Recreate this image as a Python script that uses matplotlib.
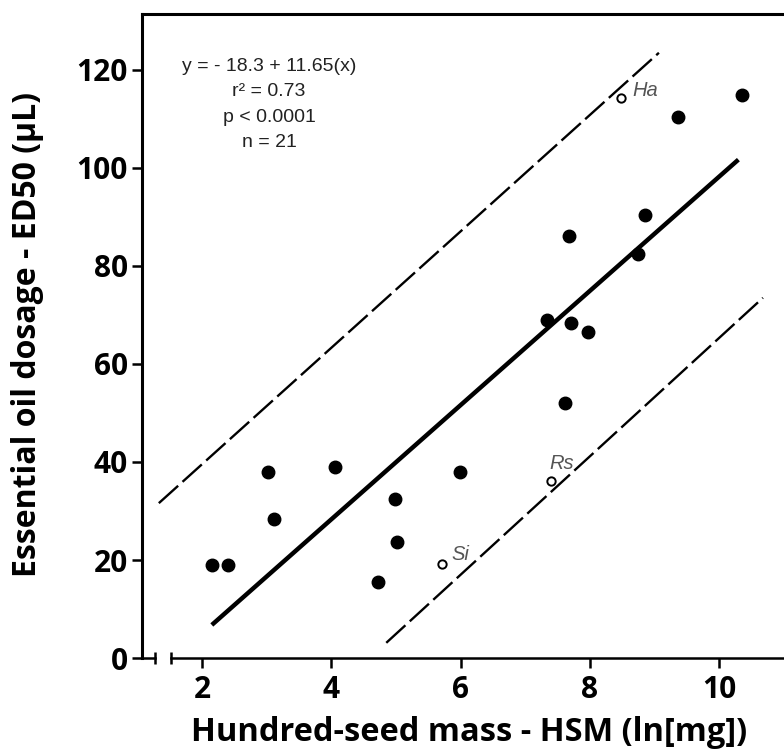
import numpy as np
import matplotlib
matplotlib.use('Agg')
import matplotlib.pyplot as plt

# filled points (species)
hsm = [2.15, 2.40, 3.02, 3.11, 4.06, 4.72, 4.98, 5.02, 5.99, 7.62,
       7.34, 7.71, 7.97, 7.68, 8.75, 8.85, 9.37, 10.36]
ed50 = [19.0, 19.0, 38.0, 28.4, 39.0, 15.5, 32.4, 23.7, 38.0, 52.0,
        69.0, 68.4, 66.5, 86.1, 82.4, 90.4, 110.4, 114.9]

# open points (labelled)
open_names = ['Si', 'Rs', 'Ha']
open_hsm = [5.71, 7.40, 8.48]
open_ed50 = [19.2, 36.1, 114.3]

# regression y = -18.3 + 11.65 x
b0, b1 = -18.3, 11.65
fit_x = [2.15, 10.3]

# prediction bands
upper_x = [1.33, 9.07]
upper_y = [31.6, 123.5]
lower_x = [4.85, 10.68]
lower_y = [3.1, 73.5]

stats = ['y = - 18.3 + 11.65(x)', 'r² = 0.73', 'p < 0.0001', 'n = 21']

fig = plt.figure(figsize=(7.84, 7.56), dpi=100)
ax = fig.add_axes([0.181, 0.1296, 0.819, 0.8518])

fx = np.array(fit_x)
ax.plot(fx, b0 + b1 * fx, color='black', lw=3.2, solid_capstyle='butt')
ax.plot(upper_x, upper_y, color='black', lw=1.7, dashes=(11, 2.5))
ax.plot(lower_x, lower_y, color='black', lw=1.7, dashes=(11, 2.5))

ax.plot(hsm, ed50, 'o', color='black', ms=9, ls='none')
ax.plot(open_hsm, open_ed50, 'o', mfc='white', mec='black', mew=1.4, ms=6, ls='none')

offsets = {'Si': (7, 7), 'Rs': (-1, 12.5), 'Ha': (8, 5.5)}
for name, x, y in zip(open_names, open_hsm, open_ed50):
    ax.annotate(name, (x, y), xytext=offsets[name], textcoords='offset points',
                fontsize=14.5, style='italic', color='#555555', family='Liberation Sans',
                ha='left', va='center')

for i, s in enumerate(stats):
    ax.text(0.198, [0.918, 0.879, 0.839, 0.801][i], s, transform=ax.transAxes,
            ha='center', va='center', fontsize=14, color='#222222',
            family='Liberation Sans')

ax.set_xlim(1.068, 11.006)
ax.set_ylim(0, 131.4)
ax.set_xticks([2, 4, 6, 8, 10])
ax.set_yticks([0, 20, 40, 60, 80, 100, 120])

for sp in ['left', 'top']:
    ax.spines[sp].set_linewidth(2.2)
ax.spines['right'].set_visible(False)
ax.spines['bottom'].set_linewidth(1.8)
ax.spines['bottom'].set_bounds(1.52, 11.006)

# axis break on x
ax.plot([1.068, 1.27], [0, 0], color='black', lw=1.8, clip_on=False)
ax.plot([1.27, 1.52], [0, 0], ls='none', marker='|', ms=8, mew=1.8,
        color='black', clip_on=False)

ax.tick_params(axis='both', width=1.8, length=7, labelsize=21.5, pad=3)
ax.tick_params(axis='x', pad=5)
for lab in ax.get_xticklabels() + ax.get_yticklabels():
    lab.set_family('Open Sans')
    lab.set_fontweight('bold')

ax.set_xlabel('Hundred-seed mass - HSM (ln[mg])', fontsize=23.5, fontweight='bold',
              family='Open Sans', va='center')
ax.set_ylabel('Essential oil dosage - ED50 (µL)', fontsize=23, fontweight='bold',
              family='Open Sans', va='center')
ax.xaxis.set_label_coords((469 - 142) / 642, -(732 - 658) / 644)
ax.yaxis.set_label_coords(-(142 - 28) / 642, (658 - 334) / 644)

fig.savefig('out.png', dpi=100)
